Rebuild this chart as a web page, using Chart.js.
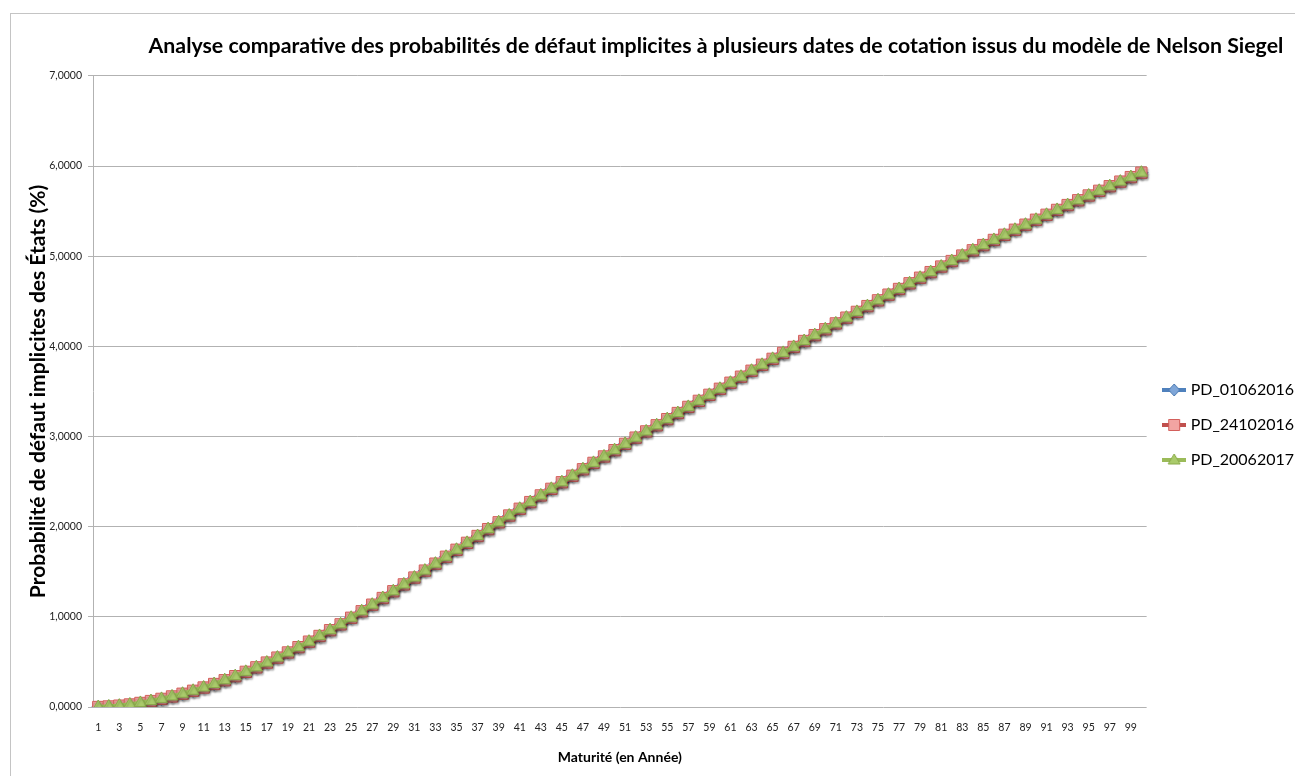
<!DOCTYPE html>
<html lang="fr">
<head>
<meta charset="utf-8">
<title>Probabilités de défaut implicites - Nelson Siegel</title>
<script src="https://cdn.jsdelivr.net/npm/chart.js@4.4.1/dist/chart.umd.min.js"></script>
<style>
  html, body { margin: 0; padding: 0; background: #fff; overflow: hidden; }
  #frame {
    position: absolute; left: 10px; top: 13px; width: 1320px; height: 800px;
    border: 1px solid #c4c4c4;
  }
  #chart { position: absolute; left: 0; top: 0; }
</style>
</head>
<body>
<div id="frame"></div>
<canvas id="chart" width="1295" height="776"></canvas>
<script>
// =============================================
// Data
// =============================================
const maturites = [
  1, 2, 3, 4, 5, 6, 7, 8, 9, 10,
  11, 12, 13, 14, 15, 16, 17, 18, 19, 20,
  21, 22, 23, 24, 25, 26, 27, 28, 29, 30,
  31, 32, 33, 34, 35, 36, 37, 38, 39, 40,
  41, 42, 43, 44, 45, 46, 47, 48, 49, 50,
  51, 52, 53, 54, 55, 56, 57, 58, 59, 60,
  61, 62, 63, 64, 65, 66, 67, 68, 69, 70,
  71, 72, 73, 74, 75, 76, 77, 78, 79, 80,
  81, 82, 83, 84, 85, 86, 87, 88, 89, 90,
  91, 92, 93, 94, 95, 96, 97, 98, 99, 100,
];

// the three curves sit on top of each other in the picture
const pd01062016 = [
  0.000, 0.006, 0.015, 0.028, 0.045, 0.066, 0.090, 0.117, 0.147, 0.180,
  0.216, 0.255, 0.297, 0.342, 0.390, 0.440, 0.493, 0.548, 0.605, 0.664,
  0.725, 0.788, 0.852, 0.917, 0.990, 1.062, 1.135, 1.209, 1.284, 1.360,
  1.436, 1.513, 1.590, 1.667, 1.744, 1.821, 1.897, 1.973, 2.049, 2.124,
  2.199, 2.273, 2.347, 2.420, 2.493, 2.565, 2.637, 2.708, 2.779, 2.849,
  2.919, 2.988, 3.057, 3.125, 3.193, 3.261, 3.329, 3.396, 3.463, 3.530,
  3.597, 3.664, 3.730, 3.796, 3.862, 3.928, 3.994, 4.060, 4.125, 4.190,
  4.255, 4.319, 4.383, 4.447, 4.511, 4.574, 4.637, 4.700, 4.762, 4.824,
  4.886, 4.947, 5.008, 5.066, 5.124, 5.181, 5.238, 5.294, 5.350, 5.405,
  5.460, 5.514, 5.568, 5.621, 5.674, 5.726, 5.777, 5.828, 5.878, 5.927,
];

const pd24102016 = [
  0.000, 0.006, 0.015, 0.028, 0.045, 0.066, 0.090, 0.117, 0.147, 0.180,
  0.216, 0.255, 0.297, 0.342, 0.390, 0.440, 0.493, 0.548, 0.605, 0.664,
  0.725, 0.788, 0.852, 0.917, 0.990, 1.062, 1.135, 1.209, 1.284, 1.360,
  1.436, 1.513, 1.590, 1.667, 1.744, 1.821, 1.897, 1.973, 2.049, 2.124,
  2.199, 2.273, 2.347, 2.420, 2.493, 2.565, 2.637, 2.708, 2.779, 2.849,
  2.919, 2.988, 3.057, 3.125, 3.193, 3.261, 3.329, 3.396, 3.463, 3.530,
  3.597, 3.664, 3.730, 3.796, 3.862, 3.928, 3.994, 4.060, 4.125, 4.190,
  4.255, 4.319, 4.383, 4.447, 4.511, 4.574, 4.637, 4.700, 4.762, 4.824,
  4.886, 4.947, 5.008, 5.066, 5.124, 5.181, 5.238, 5.294, 5.350, 5.405,
  5.460, 5.514, 5.568, 5.621, 5.674, 5.726, 5.777, 5.828, 5.878, 5.927,
];

const pd20062017 = [
  0.000, 0.006, 0.015, 0.028, 0.045, 0.066, 0.090, 0.117, 0.147, 0.180,
  0.216, 0.255, 0.297, 0.342, 0.390, 0.440, 0.493, 0.548, 0.605, 0.664,
  0.725, 0.788, 0.852, 0.917, 0.990, 1.062, 1.135, 1.209, 1.284, 1.360,
  1.436, 1.513, 1.590, 1.667, 1.744, 1.821, 1.897, 1.973, 2.049, 2.124,
  2.199, 2.273, 2.347, 2.420, 2.493, 2.565, 2.637, 2.708, 2.779, 2.849,
  2.919, 2.988, 3.057, 3.125, 3.193, 3.261, 3.329, 3.396, 3.463, 3.530,
  3.597, 3.664, 3.730, 3.796, 3.862, 3.928, 3.994, 4.060, 4.125, 4.190,
  4.255, 4.319, 4.383, 4.447, 4.511, 4.574, 4.637, 4.700, 4.762, 4.824,
  4.886, 4.947, 5.008, 5.066, 5.124, 5.181, 5.238, 5.294, 5.350, 5.405,
  5.460, 5.514, 5.568, 5.621, 5.674, 5.726, 5.777, 5.828, 5.878, 5.927,
];

const seriesNames = ['PD_01062016', 'PD_24102016', 'PD_20062017'];
const yMin = 0;
const yMax = 7;
const yStep = 1;

const FONT = 'Lato, "Open Sans", sans-serif';

// =============================================
// Legend icons (line + marker, Excel style)
// =============================================
function legendIcon(kind, line, fill, border) {
  const c = document.createElement('canvas');
  c.width = 24;
  c.height = 16;
  const g = c.getContext('2d');
  g.strokeStyle = line;
  g.lineWidth = 4;
  g.beginPath();
  g.moveTo(0, 8);
  g.lineTo(24, 8);
  g.stroke();
  g.fillStyle = fill;
  g.strokeStyle = border;
  g.lineWidth = 1;
  g.beginPath();
  if (kind === 'rectRot') {
    g.moveTo(12, 2); g.lineTo(17.5, 8); g.lineTo(12, 14); g.lineTo(6.5, 8);
  } else if (kind === 'rect') {
    g.rect(6.5, 2.5, 11, 11);
  } else {
    g.moveTo(12, 2); g.lineTo(18, 12); g.lineTo(6, 12);
  }
  g.closePath();
  g.fill();
  g.stroke();
  return c;
}

// soft drop shadow under the series, like the spreadsheet rendering
const shadowPlugin = {
  id: 'seriesShadow',
  beforeDatasetDraw(chart) {
    const ctx = chart.ctx;
    ctx.save();
    ctx.shadowColor = 'rgba(0,0,0,0.25)';
    ctx.shadowBlur = 2;
    ctx.shadowOffsetX = 1;
    ctx.shadowOffsetY = 2;
  },
  afterDatasetDraw(chart) {
    chart.ctx.restore();
  },
};

const seriesStyles = [
  { data: pd01062016, line: '#4F81BD', fill: '#7FA6D8', border: '#4A78B0', point: 'rectRot', radius: 6.5, order: 3 },
  { data: pd24102016, line: '#C0504D', fill: '#F2A4A2', border: '#D35F5B', point: 'rect', radius: 8, order: 2 },
  { data: pd20062017, line: '#9BBB59', fill: '#AACB6B', border: '#8AAA4A', point: 'triangle', radius: 7, order: 1 },
];

const datasets = seriesStyles.map((s, i) => ({
  label: seriesNames[i],
  data: s.data,
  borderColor: s.line,
  backgroundColor: s.fill,
  borderWidth: 4.5,
  pointStyle: s.point,
  pointRadius: s.radius,
  pointBackgroundColor: s.fill,
  pointBorderColor: s.border,
  pointBorderWidth: 1,
  tension: 0,
  order: s.order,
  legendIcon: legendIcon(s.point, s.line, s.fill, s.border),
}));

new Chart(document.getElementById('chart'), {
  type: 'line',
  data: { labels: maturites, datasets },
  plugins: [shadowPlugin],
  options: {
    responsive: false,
    animation: false,
    // legend is wider than the room it has in the original: let it run past the edge a little
    layout: { padding: { left: 0, right: -9, top: 0, bottom: 0 } },
    plugins: {
      title: {
        display: true,
        // trailing no-break spaces keep the right edge where the original sits
        text: 'Analyse comparative des probabilités de défaut implicites à plusieurs dates de cotation issus du modèle de Nelson Siegel\u00a0\u00a0\u00a0\u00a0',
        align: 'end',
        color: '#000',
        font: { family: FONT, size: 21.3, weight: 'bold' },
        padding: { top: 33.7, bottom: 16.7 },
      },
      legend: {
        position: 'right',
        align: 'start',
        fullSize: false,
        title: { display: true, text: '', font: { size: 12 }, padding: { top: 272.6, bottom: 0 } },
        labels: {
          usePointStyle: true,
          pointStyleWidth: 17,
          padding: 19,
          color: '#000',
          font: { family: FONT, size: 16 },
          generateLabels: chart => chart.data.datasets.map((ds, i) => ({
            text: ds.label,
            pointStyle: ds.legendIcon,
            fillStyle: ds.backgroundColor,
            strokeStyle: ds.borderColor,
            lineWidth: 0,
            fontColor: '#000',
            hidden: !chart.isDatasetVisible(i),
            datasetIndex: i,
          })),
        },
      },
      tooltip: { enabled: false },
    },
    scales: {
      x: {
        offset: true,
        grid: { display: false, drawTicks: false },
        border: { display: false },
        ticks: {
          autoSkip: false,
          maxRotation: 0,
          padding: 14,
          color: '#222',
          font: { family: FONT, size: 10.5 },
          callback: (v, i) => (i % 2 === 0 ? maturites[i] : ''),
        },
        title: {
          display: true,
          text: 'Maturité (en Année)',
          color: '#000',
          font: { family: FONT, size: 14, weight: 'bold' },
          padding: { top: 0, bottom: 10.6 },
        },
        afterFit: scale => { scale.height = 69; },
      },
      y: {
        min: yMin,
        max: yMax,
        grid: { color: '#b2b2b2', lineWidth: 1, tickLength: 5, drawTicks: true },
        border: { display: true, color: '#b2b2b2' },
        ticks: {
          stepSize: yStep,
          padding: 6,
          color: '#222',
          font: { family: FONT, size: 10.5 },
          callback: v => v.toFixed(4).replace('.', ','),
        },
        title: {
          display: true,
          text: 'Probabilité de défaut implicites des États (%)',
          color: '#000',
          font: { family: FONT, size: 21, weight: 'bold' },
          padding: { top: 25.4, bottom: 0 },
        },
        afterFit: scale => { scale.width = 93; },
      },
    },
  },
});
</script>
</body>
</html>
